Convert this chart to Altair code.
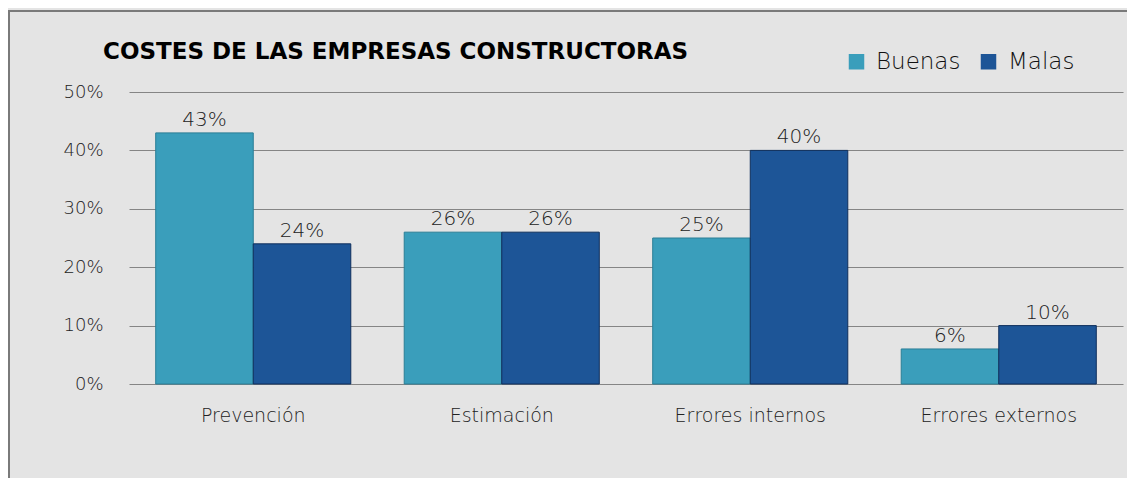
import altair as alt
import pandas as pd

title_text = "COSTES DE LAS EMPRESAS CONSTRUCTORAS"
categories = ["Prevención", "Estimación", "Errores internos", "Errores externos"]
series = ["Buenas", "Malas"]
buenas = [0.43, 0.26, 0.25, 0.06]
malas = [0.24, 0.26, 0.40, 0.10]
y_ticks = [0, 0.1, 0.2, 0.3, 0.4, 0.5]

rows = []
for c, b, m in zip(categories, buenas, malas):
    rows.append({"cat": c, "serie": "Buenas", "valor": b})
    rows.append({"cat": c, "serie": "Malas", "valor": m})
df = pd.DataFrame(rows)

FONT = "DejaVu Sans"
W, H = 994, 292

x_enc = alt.X("cat:N", sort=categories,
              scale=alt.Scale(paddingInner=0.215, paddingOuter=0.1075),
              axis=alt.Axis(title=None, labelAngle=0, domain=False, ticks=False,
                            labelFontSize=19, labelColor="#222222", labelFont=FONT,
                            labelPadding=22, labelFontWeight=300))
y_enc = alt.Y("valor:Q", scale=alt.Scale(domain=[0, 0.5], nice=False),
              axis=alt.Axis(title=None, values=y_ticks, format=".0%", domain=False,
                            ticks=False, grid=True, gridColor="#858585", gridWidth=1,
                            labelFontSize=18, labelColor="#222222", labelFont=FONT,
                            labelPadding=26, labelFontWeight=300))

color_enc = alt.Color("serie:N", sort=series,
                      scale=alt.Scale(domain=series, range=["#3A9EBB", "#1D5597"]),
                      legend=alt.Legend(title=None, orient="none", legendX=716, legendY=-42,
                                        direction="horizontal", symbolType="square",
                                        symbolSize=240, symbolStrokeWidth=0,
                                        labelFontSize=23, labelFont=FONT, labelColor="#111111",
                                        labelFontWeight=300, labelOffset=8, columnPadding=16,
                                        padding=0))

stroke_enc = alt.Stroke("serie:N", scale=alt.Scale(domain=series, range=["#2A7E96", "#0F2F5C"]),
                        legend=None)

bars = alt.Chart(df).mark_bar(strokeWidth=1).encode(
    x=x_enc,
    xOffset=alt.XOffset("serie:N", sort=series),
    y=y_enc,
    color=color_enc,
    stroke=stroke_enc,
)

labels = alt.Chart(df).mark_text(baseline="alphabetic", dy=-7, fontSize=20, font=FONT,
                                 fontWeight=300, color="#222222").encode(
    x=alt.X("cat:N", sort=categories),
    xOffset=alt.XOffset("serie:N", sort=series),
    y="valor:Q",
    text=alt.Text("valor:Q", format=".0%"),
)

title = alt.Chart(pd.DataFrame({"t": [title_text]})).mark_text(
    align="left", baseline="alphabetic", fontSize=23, font=FONT, fontWeight="bold",
    color="#000000"
).encode(x=alt.value(-26), y=alt.value(-33), text="t:N")

frame = alt.Chart(pd.DataFrame({"a": [0]})).mark_rect(
    fill="transparent", stroke="#7A7A7A", strokeWidth=2
).encode(
    x=alt.value(-120), x2=alt.value(W + 20),
    y=alt.value(-81), y2=alt.value(H + 120),
)

chart = alt.layer(bars, labels, title, frame).properties(
    width=W, height=H,
    autosize=alt.AutoSizeParams(type="none"),
    padding={"left": 121, "top": 84, "right": 4, "bottom": 94},
    background="#E4E4E4",
).configure_view(stroke=None)

chart.save("out.html", embed_options={"renderer": "svg", "actions": False})
